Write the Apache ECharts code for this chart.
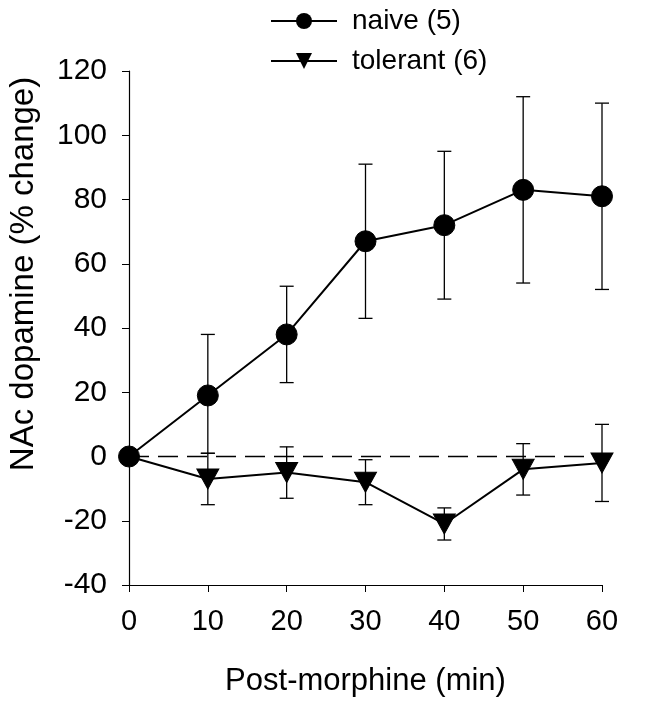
<!DOCTYPE html>
<html>
<head>
<meta charset="utf-8">
<script src="https://cdn.jsdelivr.net/npm/echarts@6/dist/echarts.min.js"></script>
<style>html,body{margin:0;padding:0;background:#fff;}#c{width:668px;height:719px;}</style>
</head>
<body>
<div id="c"></div>
<script>
var times = [0, 10, 20, 30, 40, 50, 60];
var naive = [0, 19, 38, 67, 72, 83, 81];
var naiveLow = [0, 1, 23, 43, 49, 54, 52];
var naiveHigh = [0, 38, 53, 91, 95, 112, 110];
var tolerant = [0, -7, -5, -8, -21, -4, -2];
var tolerantLow = [0, -15, -13, -15, -26, -12, -14];
var tolerantHigh = [0, 1, 3, -1, -16, 4, 10];
var yTicks = [-40, -20, 0, 20, 40, 60, 80, 100, 120];
var xTicks = [0, 10, 20, 30, 40, 50, 60];
var xTitle = 'Post-morphine (min)';
var yTitle = 'NAc dopamine (% change)';

var FONT = 'Liberation Sans, Arial, sans-serif';

function pairs(xs, ys) { return xs.map(function (x, i) { return [x, ys[i]]; }); }
function bars(xs, lo, hi) {
  var out = [];
  xs.forEach(function (x, i) { if (hi[i] !== lo[i]) out.push([x, lo[i], hi[i]]); });
  return out;
}
function errRender(params, api) {
  var x = api.value(0);
  var p1 = api.coord([x, api.value(1)]);
  var p2 = api.coord([x, api.value(2)]);
  var w = 7;
  var st = { stroke: '#000', lineWidth: 1.3 };
  return {
    type: 'group',
    children: [
      { type: 'line', shape: { x1: p1[0], y1: p1[1], x2: p2[0], y2: p2[1] }, style: st },
      { type: 'line', shape: { x1: p1[0] - w, y1: p1[1], x2: p1[0] + w, y2: p1[1] }, style: st },
      { type: 'line', shape: { x1: p2[0] - w, y1: p2[1], x2: p2[0] + w, y2: p2[1] }, style: st }
    ]
  };
}
// tolerant marker at t=0 is hidden beneath the naive circle in the reference
var tolerantData = pairs(times, tolerant).map(function (p, i) {
  return i === 0 ? { value: p, symbol: 'none' } : p;
});

var chart = echarts.init(document.getElementById('c'));
chart.setOption({
  animation: false,
  backgroundColor: '#fff',
  grid: { left: 129, right: 66, top: 71, bottom: 134, containLabel: false },
  legend: {
    orient: 'vertical',
    left: 265,
    top: 1,
    itemWidth: 66,
    itemHeight: 20,
    itemGap: 10,
    textStyle: { fontFamily: FONT, fontSize: 28, lineHeight: 30, color: '#000', padding: [0, 0, 0, 10] },
    data: ['naive (5)', 'tolerant (6)']
  },
  graphic: [{
    type: 'text',
    x: 24, y: 274,
    rotation: Math.PI / 2,
    style: { text: yTitle, fontFamily: FONT, fontSize: 33, fill: '#000', align: 'center', verticalAlign: 'middle' }
  }],
  xAxis: {
    type: 'value',
    min: 0, max: 60, interval: 10,
    name: xTitle,
    nameLocation: 'middle',
    nameGap: 81,
    nameTextStyle: { fontFamily: FONT, fontSize: 31, color: '#000' },
    axisLine: { show: true, onZero: false, lineStyle: { color: '#000', width: 1.2 } },
    axisTick: { show: true, length: 7, lineStyle: { color: '#000' } },
    axisLabel: { fontFamily: FONT, fontSize: 29, color: '#000', margin: 22,
      formatter: function (v) { return xTicks.indexOf(v) >= 0 ? String(v) : ''; } },
    splitLine: { show: false }
  },
  yAxis: {
    type: 'value',
    min: -40, max: 120, interval: 20,
    axisLine: { show: true, lineStyle: { color: '#000', width: 1.2 } },
    axisTick: { show: true, length: 7, lineStyle: { color: '#000' } },
    axisLabel: { fontFamily: FONT, fontSize: 30, color: '#000', margin: 22,
      formatter: function (v) { return yTicks.indexOf(v) >= 0 ? String(v) : ''; } },
    splitLine: { show: false }
  },
  series: [
    {
      type: 'custom', name: 'naiveErr', renderItem: errRender,
      data: bars(times, naiveLow, naiveHigh), z: 1, silent: true
    },
    {
      type: 'custom', name: 'tolerantErr', renderItem: errRender,
      data: bars(times, tolerantLow, tolerantHigh), z: 1, silent: true
    },
    {
      name: 'tolerant (6)', type: 'line', data: tolerantData,
      symbol: 'triangle', symbolRotate: 180, symbolSize: [22, 20], showAllSymbol: true,
      lineStyle: { color: '#000', width: 2 },
      itemStyle: { color: '#000', borderColor: '#000' },
      z: 3
    },
    {
      name: 'naive (5)', type: 'line', data: pairs(times, naive),
      symbol: 'circle', symbolSize: 21, showAllSymbol: true,
      lineStyle: { color: '#000', width: 2 },
      itemStyle: { color: '#000', borderColor: '#000' },
      z: 4,
      markLine: {
        silent: true, symbol: 'none', label: { show: false },
        lineStyle: { color: '#000', width: 1.3, type: [20, 9] },
        data: [{ yAxis: 0 }]
      }
    }
  ]
});
</script>
</body>
</html>
